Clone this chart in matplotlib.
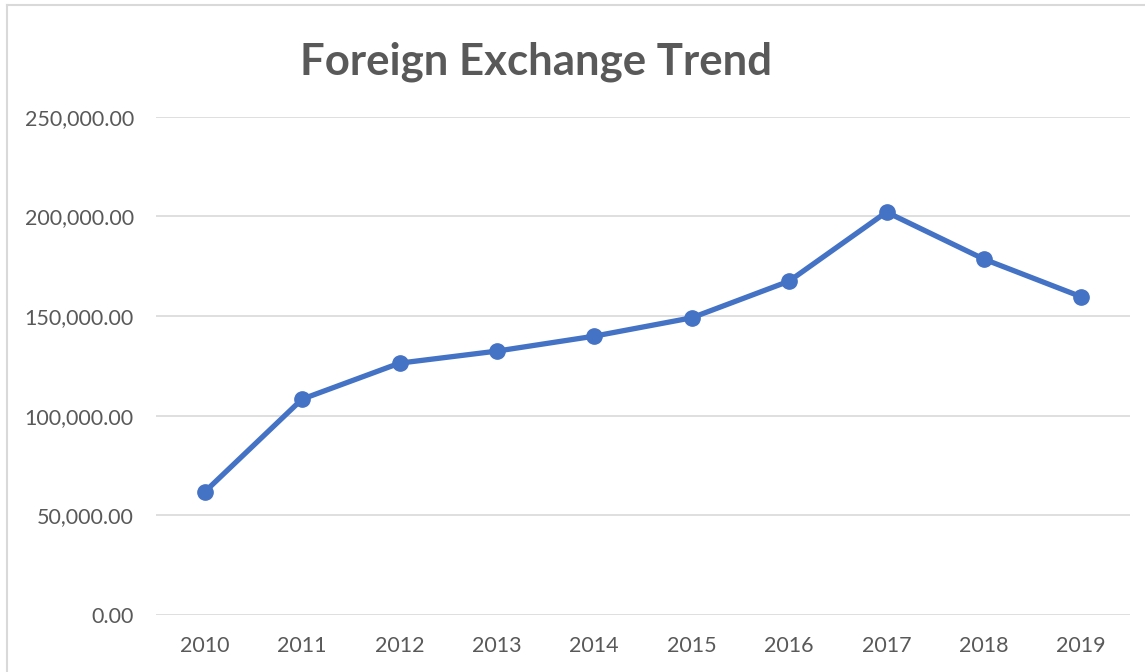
import matplotlib
matplotlib.use("Agg")
import matplotlib.pyplot as plt
from matplotlib.lines import Line2D
from matplotlib.ticker import FuncFormatter

years = ["2010", "2011", "2012", "2013", "2014", "2015", "2016", "2017", "2018", "2019"]
values = [61750, 108300, 126350, 132400, 139900, 149100, 167500, 202150, 178550, 159650]

plt.rcParams['font.family'] = ['Lato', 'DejaVu Sans']
grey = '#595959'

fig = plt.figure(figsize=(11.45, 6.72), dpi=100)
ax = fig.add_axes([156 / 1145, 1 - 615 / 672, 974 / 1145, (615 - 116.7) / 672])

x = list(range(len(years)))
ax.plot(x, values, color='#4472C4', linewidth=3.8, marker='o', markersize=11,
        solid_capstyle='round', solid_joinstyle='round', zorder=3)

ax.set_xlim(-0.5, len(years) - 0.5)
ax.set_ylim(0, 250000)
ax.set_yticks([0, 50000, 100000, 150000, 200000, 250000])
ax.yaxis.set_major_formatter(FuncFormatter(lambda v, p: f"{v:,.2f}"))
ax.set_xticks(x)
ax.set_xticklabels(years)
ax.grid(axis='y', color='#D9D9D9', linewidth=1.2)
ax.set_axisbelow(True)
for s in ax.spines.values():
    s.set_visible(False)
ax.tick_params(axis='both', length=0, labelsize=15.5, labelcolor=grey)
ax.tick_params(axis='y', pad=16)
ax.tick_params(axis='x', pad=15)

fig.text(536 / 1145, 1 - 62 / 672, "Foreign Exchange Trend", ha='center', va='center',
         fontsize=31.5, fontweight='bold', color=grey)

# chart area border (only left and top visible)
fig.add_artist(Line2D([7 / 1145, 7 / 1145], [0, 1 - 5 / 672], transform=fig.transFigure,
                      color='#D9D9D9', linewidth=1.5))
fig.add_artist(Line2D([7 / 1145, 1], [1 - 5 / 672, 1 - 5 / 672], transform=fig.transFigure,
                      color='#D9D9D9', linewidth=1.5))

fig.savefig("out.png", dpi=100)
